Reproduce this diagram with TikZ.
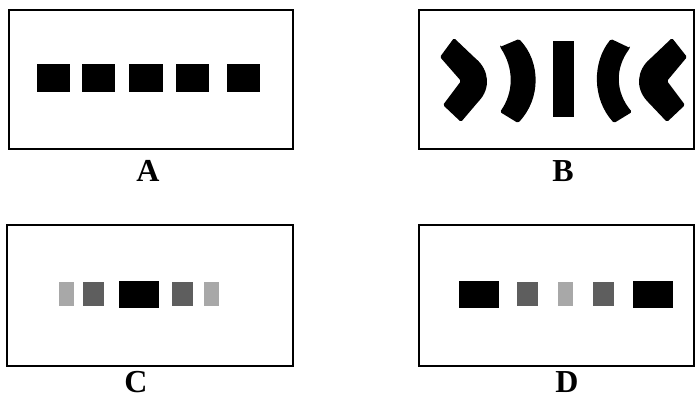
\documentclass[tikz,border=0pt]{standalone}
\usepackage{fontspec}
\setmainfont{Liberation Serif}
\usepackage{tikz}
\definecolor{lightbar}{HTML}{A8A8A8}
\definecolor{darkbar}{HTML}{5E5E5E}

\begin{document}
\begin{tikzpicture}[x=1pt, y=-1pt,
        frame/.style={draw=black, line width=1.8pt},
        arc/.style={fill=black, rounded corners=1.5pt},
        label/.style={inner sep=0pt, font=\fontsize{32}{36}\selectfont\bfseries}]
                \useasboundingbox (0,0) rectangle (695,399);
                % panel A
                \draw[frame] (9,10) rectangle (293,149);
                \foreach \xa/\xb in {37/70, 82/115, 129/163, 176/209, 227/260}
                    \fill[black] (\xa,64) rectangle (\xb,92);
                \node[label] (labA) at (148,171) {A};
                % panel B
                \draw[frame] (419,10) rectangle (694,149);
                \fill[arc] (454,38) -- (475,58) .. controls (489,70) and (491,88) .. (478,102)
                    -- (461,122) -- (443,105) -- (461,81) -- (440,57) -- cycle;
                \fill[arc] (500,47) -- (519,39) .. controls (541,62) and (541,99) .. (518,123)
                    -- (500,112) .. controls (514,92) and (514,68) .. (500,47) -- cycle;
                \fill[black] (553,41) rectangle (574,117);
                \fill[arc] (630,48) -- (611,39) .. controls (592,62) and (592,99) .. (614,123)
                    -- (632,112) .. controls (615,92) and (615,68) .. (630,48) -- cycle;
                \fill[arc] (672,38) -- (651,58) .. controls (637,70) and (635,88) .. (648,102)
                    -- (667,122) -- (685,105) -- (667,81) -- (687,57) -- cycle;
                \node[label] (labB) at (563,171) {B};
                % panel C
                \draw[frame] (7,225) rectangle (293,366);
                \fill[lightbar] (59,282) rectangle (74,306);
                \fill[darkbar] (83,282) rectangle (104,306);
                \fill[black] (119,281) rectangle (159,308);
                \fill[darkbar] (172,282) rectangle (193,306);
                \fill[lightbar] (204,282) rectangle (219,306);
                \node[label] (labC) at (136,382) {C};
                % panel D
                \draw[frame] (419,225) rectangle (694,366);
                \fill[black] (459,281) rectangle (499,308);
                \fill[darkbar] (517,282) rectangle (538,306);
                \fill[lightbar] (558,282) rectangle (573,306);
                \fill[darkbar] (593,282) rectangle (614,306);
                \fill[black] (633,281) rectangle (673,308);
                \node[label] (labD) at (567,382) {D};
            \end{tikzpicture}
\end{document}
